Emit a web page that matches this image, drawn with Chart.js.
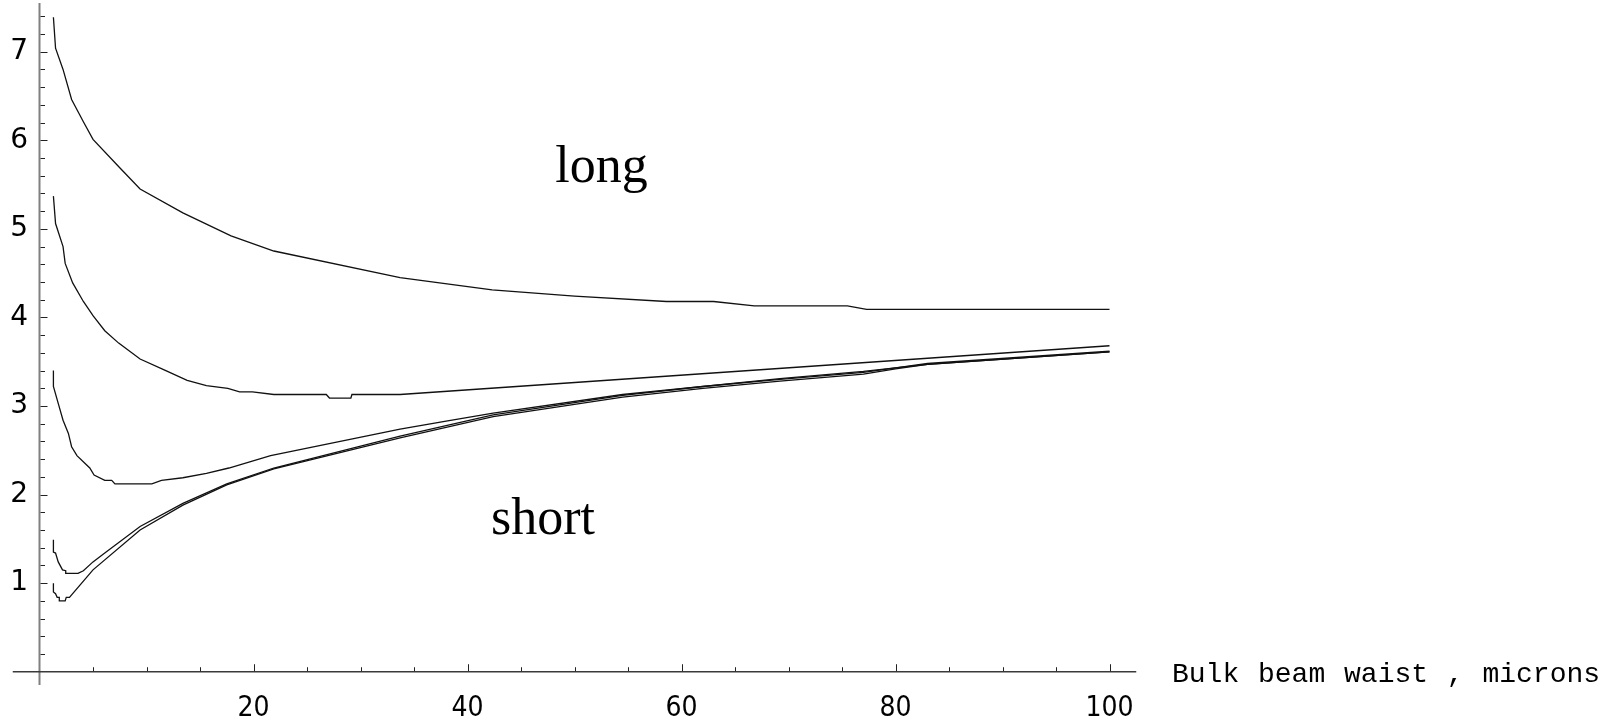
<!DOCTYPE html>
<html>
<head>
<meta charset="utf-8">
<script src="https://cdn.jsdelivr.net/npm/chart.js@4.4.1/dist/chart.umd.min.js"></script>
<style>
  html, body { margin: 0; padding: 0; background: #fff; overflow: hidden; }
  #wrap { width: 1609px; height: 724px; position: relative; }
</style>
</head>
<body>
<div id="wrap"><canvas id="c"></canvas></div>
<script>
// beam waist (microns) vs. value, five curves
var xLong1 = [1.3, 1.5, 2.2, 3.0, 4.1, 5.0, 7.5, 9.4, 13.4, 17.9, 21.9, 33.7, 42.3, 50.0, 58.6, 63.0, 66.8, 75.5, 77.3, 100];
var yLong1 = [7.39, 7.04, 6.80, 6.46, 6.21, 6.01, 5.69, 5.45, 5.18, 4.92, 4.75, 4.45, 4.31, 4.24, 4.18, 4.18, 4.13, 4.13, 4.09, 4.09];

var xLong2 = [1.3, 1.5, 2.2, 2.4, 3.1, 4.1, 5.0, 6.1, 7.4, 9.4, 11.6, 13.8, 15.6, 17.6, 18.7, 19.9, 21.9, 26.8, 27.1, 29.1, 29.2, 33.7, 100];
var yLong2 = [5.37, 5.06, 4.80, 4.61, 4.39, 4.18, 4.02, 3.85, 3.71, 3.53, 3.41, 3.29, 3.23, 3.20, 3.16, 3.16, 3.13, 3.13, 3.09, 3.09, 3.13, 3.13, 3.68];

var xMid = [1.3, 1.3, 1.75, 2.2, 2.7, 3.0, 3.5, 4.7, 5.1, 6.1, 6.75, 7.05, 10.5, 11.4, 13.4, 15.6, 17.7, 21.6, 33.7, 38, 42.4, 54.5, 62, 69.2, 77, 83, 100];
var yMid = [3.40, 3.22, 3.03, 2.84, 2.69, 2.54, 2.44, 2.30, 2.22, 2.16, 2.16, 2.12, 2.12, 2.16, 2.19, 2.24, 2.30, 2.44, 2.74, 2.83, 2.92, 3.13, 3.22, 3.31, 3.39, 3.47, 3.61];

var xShort1 = [1.3, 1.3, 1.5, 1.75, 2.15, 2.45, 2.45, 3.6, 4.1, 5.0, 6.1, 9.4, 13.4, 17.5, 21.9, 33.7, 42.4, 54.5, 62, 69.2, 77, 80, 83, 100];
var yShort1 = [1.49, 1.35, 1.34, 1.24, 1.15, 1.14, 1.11, 1.11, 1.14, 1.24, 1.34, 1.64, 1.90, 2.12, 2.30, 2.66, 2.90, 3.12, 3.22, 3.30, 3.38, 3.43, 3.48, 3.62];

var xShort2 = [1.3, 1.3, 1.5, 1.65, 1.85, 1.85, 2.4, 2.5, 2.8, 5.0, 9.4, 13.4, 17.5, 21.9, 33.7, 42.4, 54.5, 62, 69.2, 77, 80, 83, 100];
var yShort2 = [1.00, 0.90, 0.88, 0.84, 0.84, 0.80, 0.80, 0.84, 0.84, 1.15, 1.60, 1.88, 2.11, 2.29, 2.64, 2.88, 3.10, 3.20, 3.28, 3.36, 3.42, 3.47, 3.61];

var xTickLabels = ['20', '40', '60', '80', '100'];
var xTickValues = [20, 40, 60, 80, 100];
var yTickLabels = ['1', '2', '3', '4', '5', '6', '7'];
var yTickValues = [1, 2, 3, 4, 5, 6, 7];
var xAxisTitle = 'Bulk beam waist , microns';

var noteText = ['long', 'short'];
var noteX = [48.2, 42.2];
var noteY = [5.53, 1.56];

function pts(xs, ys) {
  var out = [];
  for (var i = 0; i < xs.length; i++) out.push({ x: xs[i], y: ys[i] });
  return out;
}

function curve(xs, ys) {
  return {
    data: pts(xs, ys),
    showLine: true,
    borderColor: '#111',
    borderWidth: 1.3,
    pointRadius: 0,
    tension: 0,
    fill: false
  };
}

// hand drawn axes through the origin, Mathematica style
var axesPlugin = {
  id: 'mmaAxes',
  beforeDatasetsDraw: function(chart) {
    var ctx = chart.ctx;
    var xs = chart.scales.x, ys = chart.scales.y;
    var x0 = xs.getPixelForValue(0), y0 = ys.getPixelForValue(0);
    var i, p;
    ctx.save();

    // y axis
    ctx.strokeStyle = '#808080';
    ctx.lineWidth = 2;
    ctx.beginPath();
    ctx.moveTo(x0, ys.getPixelForValue(ys.max));
    ctx.lineTo(x0, ys.getPixelForValue(ys.min));
    ctx.stroke();

    // x axis
    ctx.strokeStyle = '#3a3a3a';
    ctx.lineWidth = 1.5;
    ctx.beginPath();
    ctx.moveTo(xs.getPixelForValue(xs.min), y0);
    ctx.lineTo(xs.getPixelForValue(xs.max), y0);
    ctx.stroke();

    ctx.strokeStyle = '#222';
    ctx.lineWidth = 1;
    // y ticks, every 0.2
    for (i = 1; i <= 37; i++) {
      var yv = i * 0.2;
      var major = (i % 5 === 0);
      p = Math.round(ys.getPixelForValue(yv)) + 0.5;
      ctx.beginPath();
      ctx.moveTo(x0 + 1, p);
      ctx.lineTo(x0 + 1 + (major ? 7 : 4.5), p);
      ctx.stroke();
    }
    // x ticks, every 5
    for (i = 1; i <= 20; i++) {
      var xv = i * 5;
      var majorX = (xv % 20 === 0);
      p = Math.round(xs.getPixelForValue(xv)) + 0.5;
      ctx.beginPath();
      ctx.moveTo(p, y0 - 0.5);
      ctx.lineTo(p, y0 - 0.5 - (majorX ? 7 : 4));
      ctx.stroke();
    }
    ctx.restore();
  },
  afterDraw: function(chart) {
    var ctx = chart.ctx;
    var xs = chart.scales.x, ys = chart.scales.y;
    var i;
    ctx.save();
    ctx.fillStyle = '#000';

    ctx.font = '28px "DejaVu Sans"';
    ctx.textAlign = 'right';
    ctx.textBaseline = 'middle';
    for (i = 0; i < yTickValues.length; i++) {
      ctx.fillText(yTickLabels[i], 28, ys.getPixelForValue(yTickValues[i]));
    }

    ctx.textAlign = 'center';
    ctx.textBaseline = 'alphabetic';
    for (i = 0; i < xTickValues.length; i++) {
      ctx.save();
      ctx.translate(xs.getPixelForValue(xTickValues[i]), 715.7);
      ctx.scale(0.9, 1);
      ctx.fillText(xTickLabels[i], 0, 0);
      ctx.restore();
    }

    ctx.font = '28px "Liberation Mono"';
    ctx.textAlign = 'left';
    if ('wordSpacing' in ctx) ctx.wordSpacing = '2px';
    ctx.fillText(xAxisTitle, 1172, 681.5);
    if ('wordSpacing' in ctx) ctx.wordSpacing = '0px';

    ctx.font = '52px "Liberation Serif"';
    for (i = 0; i < noteText.length; i++) {
      ctx.fillText(noteText[i], xs.getPixelForValue(noteX[i]), ys.getPixelForValue(noteY[i]));
    }
    ctx.restore();
  }
};

new Chart(document.getElementById('c'), {
  type: 'scatter',
  data: {
    datasets: [
      curve(xLong1, yLong1),
      curve(xLong2, yLong2),
      curve(xMid, yMid),
      curve(xShort1, yShort1),
      curve(xShort2, yShort2)
    ]
  },
  options: {
    responsive: true,
    maintainAspectRatio: false,
    animation: false,
    devicePixelRatio: 1,
    layout: { padding: { left: 12.75, right: 472.75, top: 3, bottom: 39 } },
    plugins: {
      legend: { display: false },
      tooltip: { enabled: false }
    },
    scales: {
      x: { type: 'linear', min: -2.5, max: 102.5, display: false },
      y: { type: 'linear', min: -0.15, max: 7.55, display: false }
    }
  },
  plugins: [axesPlugin]
});
</script>
</body>
</html>
